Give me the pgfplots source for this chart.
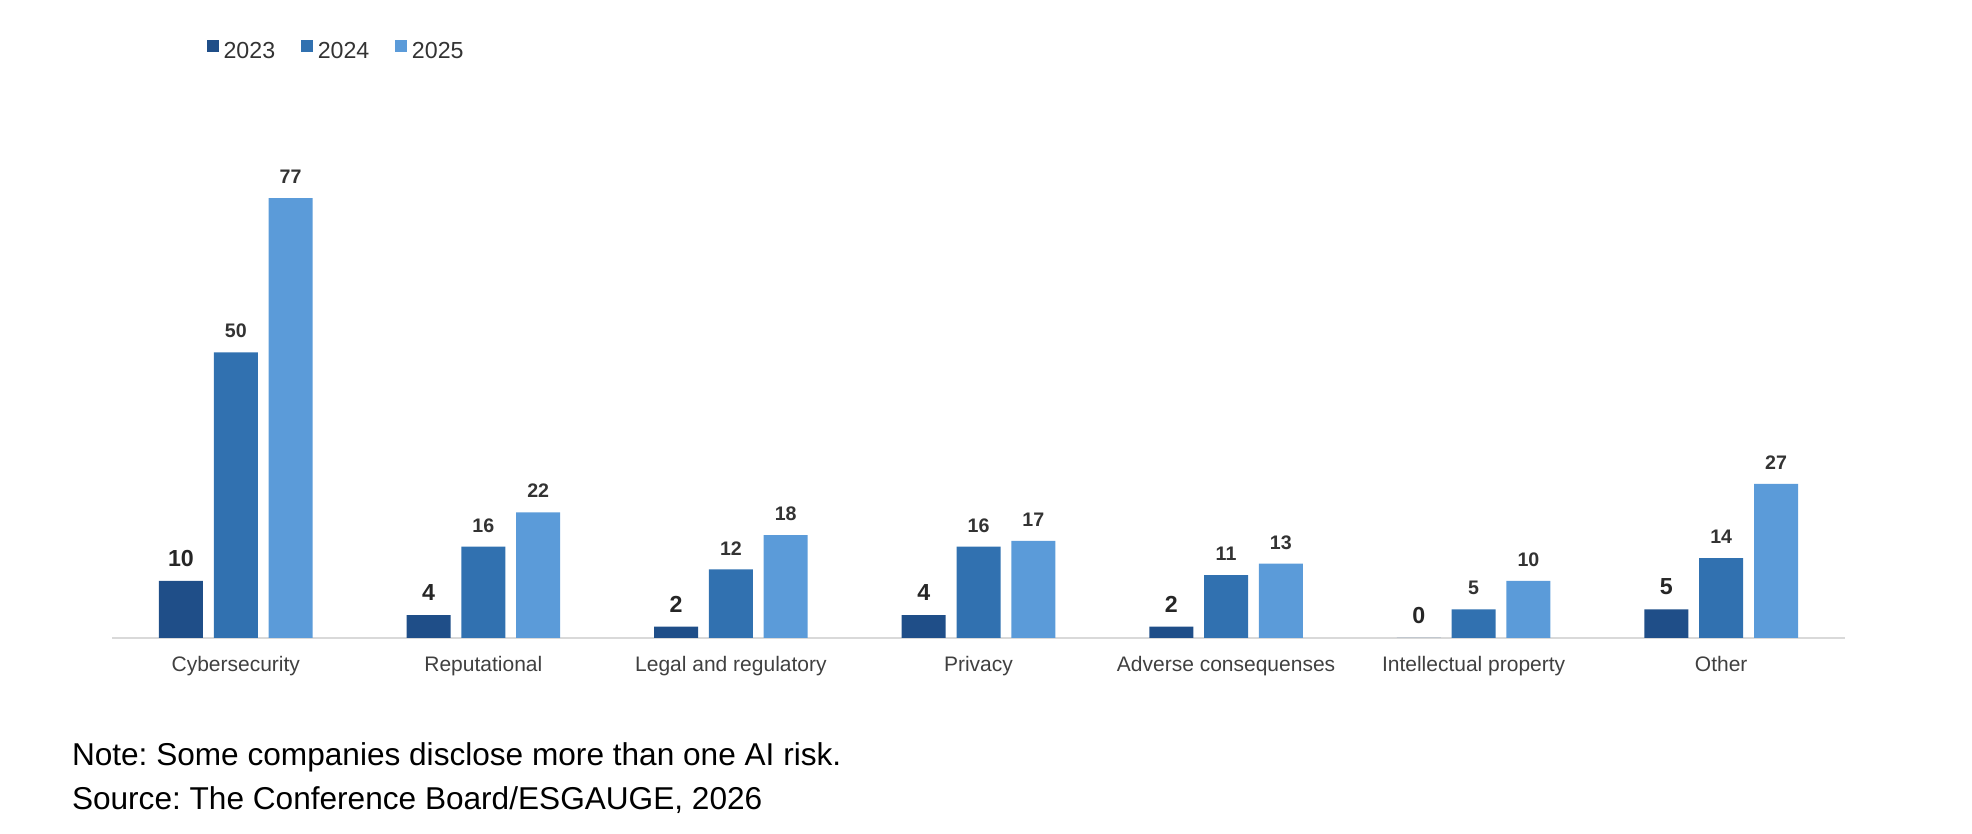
\documentclass[border=0pt]{standalone}
\usepackage{pgfplots}
\pgfplotsset{compat=1.18}
\usepackage{fontspec}
\setmainfont{Liberation Sans}
\frenchspacing
\definecolor{cA}{HTML}{1F4E88}
\definecolor{cB}{HTML}{3171B0}
\definecolor{cC}{HTML}{5B9BD9}
\definecolor{lbl}{HTML}{333333}
\definecolor{tick}{HTML}{404040}
\begin{document}
\begin{tikzpicture}
\path[use as bounding box] (0,0) rectangle (986pt,417pt);
\begin{axis}[
  at={(56pt,98pt)}, anchor=south west,
  scale only axis, width=866.5pt, height=257pt,
  xmin=-0.5, xmax=6.5, ymin=0, ymax=90,
  axis x line*=bottom, axis y line=none,
  axis line style={draw=black!15, line width=1pt},
  xtick={0,...,6},
  xticklabels={Cybersecurity, Reputational, Legal and regulatory, Privacy,
    Adverse consequenses, Intellectual property, Other},
  major tick length=0pt,
  xticklabel style={font=\fontsize{10.5}{12}\selectfont, text=tick, anchor=base, yshift=-17pt},
  /pgf/number format/assume math mode=true,
  ybar, bar width=22pt,
  nodes near coords,
  every node near coord/.append style={text=lbl, inner sep=0pt, anchor=south, yshift=7pt,
    font=\fontsize{9.8}{11}\selectfont\bfseries},
  legend columns=3,
  legend image code/.code={\fill (0pt,0pt) rectangle (5.8pt,5.8pt);},
  legend style={at={(0.0548,1.142)}, anchor=west, draw=none, fill=none,
    inner sep=0pt, outer sep=0pt, text=black!80,
    font=\fontsize{11.6}{13}\selectfont,
    nodes={inner sep=0pt},
    /tikz/every odd column/.append style={column sep=2.5pt},
    /tikz/every even column/.append style={column sep=13pt}},
]
\addplot[fill=cA, draw=none, bar shift=-27.4pt,
  every node near coord/.append style={font=\fontsize{11.6}{13}\selectfont\bfseries, text=black!85}]
  coordinates {(0,10) (1,4) (2,2) (3,4) (4,2) (5,0) (6,5)};
\addlegendentry{2023}
\addplot[fill=cB, draw=none, bar shift=0pt]
  coordinates {(0,50) (1,16) (2,12) (3,16) (4,11) (5,5) (6,14)};
\addlegendentry{2024}
\addplot[fill=cC, draw=none, bar shift=27.4pt]
  coordinates {(0,77) (1,22) (2,18) (3,17) (4,13) (5,10) (6,27)};
\addlegendentry{2025}
\end{axis}
\node[anchor=base west, inner sep=0pt, font=\fontsize{15.8}{18}\selectfont] at (35.8pt,34pt)
  {Note: Some companies disclose more than one AI risk.};
\node[anchor=base west, inner sep=0pt, font=\fontsize{15.8}{18}\selectfont] at (35.8pt,12pt)
  {Source: The Conference Board/ESGAUGE, 2026};
\end{tikzpicture}
\end{document}
